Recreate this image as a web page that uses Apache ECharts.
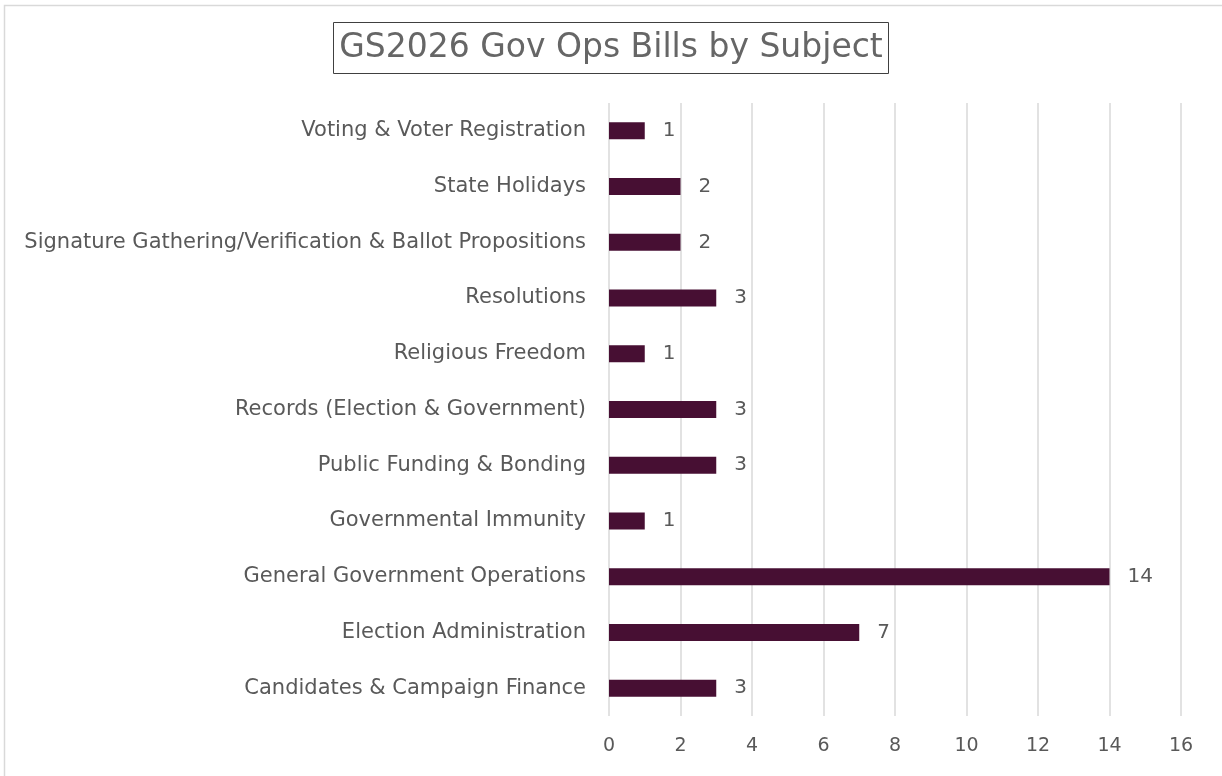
<!DOCTYPE html>
<html>
<head>
<meta charset="utf-8">
<script src="https://cdn.jsdelivr.net/npm/echarts@6/dist/echarts.min.js"></script>
<style>
html, body { margin: 0; padding: 0; background: #fff; }
#main { width: 1222px; height: 776px; }
</style>
</head>
<body>
<div id="main"></div>
<script>
// bottom to top, as on the chart
var subjects = [
    'Candidates & Campaign Finance',
    'Election Administration',
    'General Government Operations',
    'Governmental Immunity',
    'Public Funding & Bonding',
    'Records (Election & Government)',
    'Religious Freedom',
    'Resolutions',
    'Signature Gathering/Verification & Ballot Propositions',
    'State Holidays',
    'Voting & Voter Registration'
];
var billCounts = [3, 7, 14, 1, 3, 3, 1, 3, 2, 2, 1];

var font = '"DejaVu Sans", sans-serif';
var grey = '#595959';

echarts.init(document.getElementById('main')).setOption({
    animation: false,
    title: {
        text: 'GS2026 Gov Ops Bills by Subject',
        left: 'center',
        top: 22,
        padding: [10, 6, 9, 6],
        borderColor: '#404040',
        borderWidth: 1,
        textStyle: {
            color: '#666666',
            fontFamily: font,
            fontSize: 33,
            fontWeight: 'normal'
        }
    },
    graphic: [{
        type: 'rect',
        shape: {x: 4.5, y: 5.5, width: 1230, height: 790},
        style: {fill: 'none', stroke: '#d9d9d9', lineWidth: 1.5},
        silent: true
    }],
    grid: {left: 609, top: 103, width: 572, height: 613},
    xAxis: {
        type: 'value',
        min: 0,
        max: 16,
        interval: 2,
        axisLine: {show: false},
        axisTick: {show: false},
        splitLine: {lineStyle: {color: '#d9d9d9', width: 1.5}},
        axisLabel: {
            color: grey,
            fontFamily: font,
            fontSize: 19,
            margin: 21
        }
    },
    yAxis: {
        type: 'category',
        data: subjects,
        axisLine: {show: false},
        axisTick: {show: false},
        axisLabel: {
            color: grey,
            fontFamily: font,
            fontSize: 21,
            margin: 23
        }
    },
    series: [{
        type: 'bar',
        data: billCounts,
        barWidth: 17,
        itemStyle: {color: '#470f33'},
        label: {
            show: true,
            position: 'right',
            distance: 18,
            color: grey,
            fontFamily: font,
            fontSize: 20
        }
    }]
});
</script>
</body>
</html>
